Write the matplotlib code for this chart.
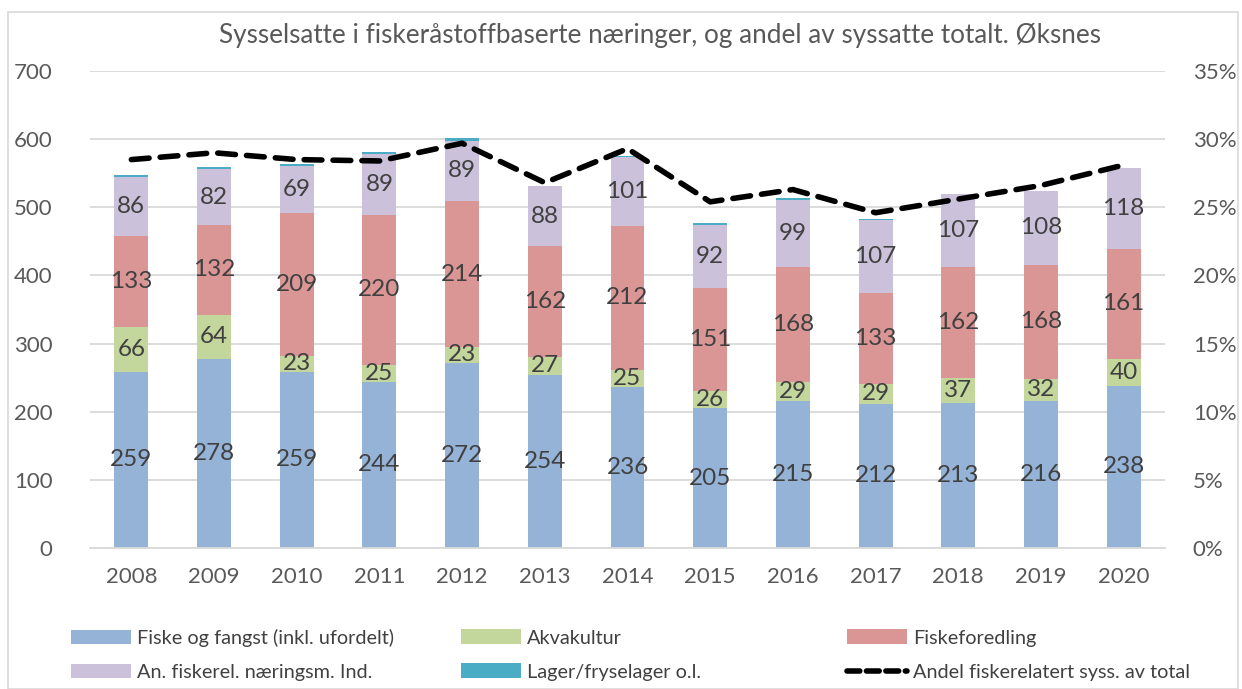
import matplotlib
matplotlib.use("Agg")
import matplotlib.pyplot as plt
from matplotlib.patches import Patch, Rectangle
from matplotlib.lines import Line2D
from matplotlib.ticker import FuncFormatter, MultipleLocator

plt.rcParams['font.family'] = ['Lato', 'DejaVu Sans']

years = ['2008', '2009', '2010', '2011', '2012', '2013', '2014', '2015', '2016', '2017', '2018', '2019', '2020']
fiske = [259, 278, 259, 244, 272, 254, 236, 205, 215, 212, 213, 216, 238]
akva = [66, 64, 23, 25, 23, 27, 25, 26, 29, 29, 37, 32, 40]
foredling = [133, 132, 209, 220, 214, 162, 212, 151, 168, 133, 162, 168, 161]
annet = [86, 82, 69, 89, 89, 88, 101, 92, 99, 107, 107, 108, 118]
lager = [3, 3, 3, 3, 3, 0, 1, 3, 2, 2, 0, 0, 0]
andel = [28.5, 29.0, 28.5, 28.4, 29.7, 26.8, 29.3, 25.4, 26.3, 24.6, 25.6, 26.6, 28.1]

series_names = ['Fiske og fangst (inkl. ufordelt)', 'Akvakultur', 'Fiskeforedling',
                'An. fiskerel. næringsm. Ind.', 'Lager/fryselager o.l.']
line_name = 'Andel fiskerelatert syss. av total'
colors = ['#95B3D7', '#C3D69B', '#D99694', '#CCC1DA', '#4BACC6']
title = 'Sysselsatte i fiskeråstoffbaserte næringer, og andel av syssatte totalt. Øksnes'

txt = '#595959'
lab = '#404040'

fig = plt.figure(figsize=(12.42, 6.89), dpi=100)
# outer border
fig.patches.append(Rectangle((8/1242, 0), 1 - 12/1242, 1 - 12/689, transform=fig.transFigure,
                             fill=False, edgecolor='#D9D9D9', linewidth=1.2))

ax = fig.add_axes([90/1242, 1 - 548/689, (1165 - 90)/1242, (548 - 71)/689])
x = list(range(len(years)))
bottom = [0] * len(years)
data = [fiske, akva, foredling, annet, lager]
for i, (vals, c) in enumerate(zip(data, colors)):
    ax.bar(x, vals, width=0.41, bottom=bottom, color=c, zorder=2)
    if i < 4:
        for xi, b, v in zip(x, bottom, vals):
            ax.text(xi, b + v / 2, str(v), ha='center', va='center', fontsize=17.5,
                    color=lab, zorder=3)
    bottom = [b + v for b, v in zip(bottom, vals)]

ax.set_xlim(-0.5, len(years) - 0.5)
ax.set_ylim(0, 700)
ax.yaxis.set_major_locator(MultipleLocator(100))
ax.grid(axis='y', color='#D9D9D9', linewidth=1.3, zorder=0)
ax.set_axisbelow(True)
for s in ['top', 'right', 'left']:
    ax.spines[s].set_visible(False)
ax.spines['bottom'].set_color('#D9D9D9')
ax.spines['bottom'].set_linewidth(1.3)
ax.set_xticks(x)
ax.set_xticklabels(years)
ax.tick_params(axis='both', length=0, labelsize=16, colors=txt)
ax.tick_params(axis='x', pad=14)
ax.tick_params(axis='y', pad=27)

ax2 = ax.twinx()
ax2.set_ylim(0, 35)
ax2.yaxis.set_major_locator(MultipleLocator(5))
ax2.yaxis.set_major_formatter(FuncFormatter(lambda v, p: f'{v:.0f}%'))
for s in ['top', 'right', 'left', 'bottom']:
    ax2.spines[s].set_visible(False)
ax2.tick_params(axis='y', length=0, labelsize=16, colors=txt, pad=20)
ax2.plot(x, andel, color='black', linewidth=4, linestyle=(0, (3.2, 2)),
         dash_capstyle='round', solid_capstyle='round', zorder=5)

fig.text(660/1242, 1 - 35/689, title, ha='center', va='center', fontsize=18.8, color=txt)

# legend in three columns
handles = [Patch(facecolor=c, edgecolor='none') for c in colors]
lh = Line2D([0], [0], color='black', linewidth=4, linestyle=(0, (2.3, 1.2)),
            dash_capstyle='round')
cols = [([handles[0], handles[3]], [series_names[0], series_names[3]], 72),
        ([handles[1], handles[4]], [series_names[1], series_names[4]], 462),
        ([handles[2], lh], [series_names[2], line_name], 848)]
for hs, ls, xp in cols:
    fig.legend(hs, ls, loc='center left', bbox_to_anchor=(xp/1242 - 0.0135, 1 - 655/689),
               frameon=False, fontsize=14.3, labelcolor=lab, handlelength=3.0,
               handleheight=0.75, handletextpad=0.3, labelspacing=0.85, borderpad=0.3)

fig.savefig('out.png', dpi=100)
